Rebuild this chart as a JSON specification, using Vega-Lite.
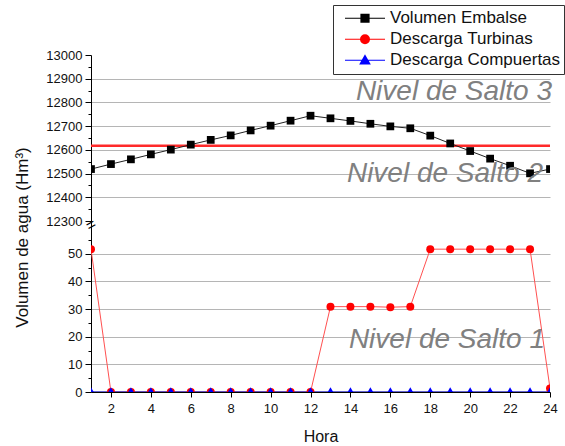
{
  "$schema": "https://vega.github.io/schema/vega-lite/v6.json",
  "width": 459,
  "height": 337,
  "autosize": {"type": "none"},
  "padding": {"left": 91, "top": 55, "right": 15, "bottom": 54},
  "background": "white",
  "config": {
    "font": "Liberation Sans",
    "view": {"stroke": null},
    "axis": {"labelFont": "Liberation Sans", "titleFont": "Liberation Sans", "titleFontWeight": "normal", "labelColor": "#111", "titleColor": "#111", "domainColor": "#000", "tickColor": "#000"}
  },
  "datasets": {
    "series": [
      {"hora": 1, "serie": "Volumen Embalse", "valor": 12519},
      {"hora": 2, "serie": "Volumen Embalse", "valor": 12540},
      {"hora": 3, "serie": "Volumen Embalse", "valor": 12560},
      {"hora": 4, "serie": "Volumen Embalse", "valor": 12581},
      {"hora": 5, "serie": "Volumen Embalse", "valor": 12601},
      {"hora": 6, "serie": "Volumen Embalse", "valor": 12622},
      {"hora": 7, "serie": "Volumen Embalse", "valor": 12642},
      {"hora": 8, "serie": "Volumen Embalse", "valor": 12661},
      {"hora": 9, "serie": "Volumen Embalse", "valor": 12682},
      {"hora": 10, "serie": "Volumen Embalse", "valor": 12702},
      {"hora": 11, "serie": "Volumen Embalse", "valor": 12723},
      {"hora": 12, "serie": "Volumen Embalse", "valor": 12744},
      {"hora": 13, "serie": "Volumen Embalse", "valor": 12733},
      {"hora": 14, "serie": "Volumen Embalse", "valor": 12722},
      {"hora": 15, "serie": "Volumen Embalse", "valor": 12710},
      {"hora": 16, "serie": "Volumen Embalse", "valor": 12699},
      {"hora": 17, "serie": "Volumen Embalse", "valor": 12691},
      {"hora": 18, "serie": "Volumen Embalse", "valor": 12660},
      {"hora": 19, "serie": "Volumen Embalse", "valor": 12627},
      {"hora": 20, "serie": "Volumen Embalse", "valor": 12595},
      {"hora": 21, "serie": "Volumen Embalse", "valor": 12563},
      {"hora": 22, "serie": "Volumen Embalse", "valor": 12533},
      {"hora": 23, "serie": "Volumen Embalse", "valor": 12501},
      {"hora": 24, "serie": "Volumen Embalse", "valor": 12519},
      {"hora": 1, "serie": "Descarga Turbinas", "valor": 51.7},
      {"hora": 2, "serie": "Descarga Turbinas", "valor": 0},
      {"hora": 3, "serie": "Descarga Turbinas", "valor": 0},
      {"hora": 4, "serie": "Descarga Turbinas", "valor": 0},
      {"hora": 5, "serie": "Descarga Turbinas", "valor": 0},
      {"hora": 6, "serie": "Descarga Turbinas", "valor": 0},
      {"hora": 7, "serie": "Descarga Turbinas", "valor": 0},
      {"hora": 8, "serie": "Descarga Turbinas", "valor": 0},
      {"hora": 9, "serie": "Descarga Turbinas", "valor": 0},
      {"hora": 10, "serie": "Descarga Turbinas", "valor": 0},
      {"hora": 11, "serie": "Descarga Turbinas", "valor": 0},
      {"hora": 12, "serie": "Descarga Turbinas", "valor": 0},
      {"hora": 13, "serie": "Descarga Turbinas", "valor": 30.9},
      {"hora": 14, "serie": "Descarga Turbinas", "valor": 30.9},
      {"hora": 15, "serie": "Descarga Turbinas", "valor": 30.9},
      {"hora": 16, "serie": "Descarga Turbinas", "valor": 30.7},
      {"hora": 17, "serie": "Descarga Turbinas", "valor": 30.9},
      {"hora": 18, "serie": "Descarga Turbinas", "valor": 51.7},
      {"hora": 19, "serie": "Descarga Turbinas", "valor": 51.7},
      {"hora": 20, "serie": "Descarga Turbinas", "valor": 51.7},
      {"hora": 21, "serie": "Descarga Turbinas", "valor": 51.7},
      {"hora": 22, "serie": "Descarga Turbinas", "valor": 51.7},
      {"hora": 23, "serie": "Descarga Turbinas", "valor": 51.7},
      {"hora": 24, "serie": "Descarga Turbinas", "valor": 1.3},
      {"hora": 1, "serie": "Descarga Compuertas", "valor": 0},
      {"hora": 2, "serie": "Descarga Compuertas", "valor": 0},
      {"hora": 3, "serie": "Descarga Compuertas", "valor": 0},
      {"hora": 4, "serie": "Descarga Compuertas", "valor": 0},
      {"hora": 5, "serie": "Descarga Compuertas", "valor": 0},
      {"hora": 6, "serie": "Descarga Compuertas", "valor": 0},
      {"hora": 7, "serie": "Descarga Compuertas", "valor": 0},
      {"hora": 8, "serie": "Descarga Compuertas", "valor": 0},
      {"hora": 9, "serie": "Descarga Compuertas", "valor": 0},
      {"hora": 10, "serie": "Descarga Compuertas", "valor": 0},
      {"hora": 11, "serie": "Descarga Compuertas", "valor": 0},
      {"hora": 12, "serie": "Descarga Compuertas", "valor": 0},
      {"hora": 13, "serie": "Descarga Compuertas", "valor": 0},
      {"hora": 14, "serie": "Descarga Compuertas", "valor": 0},
      {"hora": 15, "serie": "Descarga Compuertas", "valor": 0},
      {"hora": 16, "serie": "Descarga Compuertas", "valor": 0},
      {"hora": 17, "serie": "Descarga Compuertas", "valor": 0},
      {"hora": 18, "serie": "Descarga Compuertas", "valor": 0},
      {"hora": 19, "serie": "Descarga Compuertas", "valor": 0},
      {"hora": 20, "serie": "Descarga Compuertas", "valor": 0},
      {"hora": 21, "serie": "Descarga Compuertas", "valor": 0},
      {"hora": 22, "serie": "Descarga Compuertas", "valor": 0},
      {"hora": 23, "serie": "Descarga Compuertas", "valor": 0},
      {"hora": 24, "serie": "Descarga Compuertas", "valor": 0}
    ],
    "niveles": [
      {"hora": 24.1, "valor": 12810, "etiqueta": "Nivel de Salto 3"},
      {"hora": 23.65, "valor": 12464, "etiqueta": "Nivel de Salto 2"},
      {"hora": 23.75, "valor": 15.9, "etiqueta": "Nivel de Salto 1"}
    ],
    "umbral": [{"hora": 1, "hora_fin": 24, "valor": 12617}],
    "corte": [{"hora": 1, "valor": 6000, "simbolo": "="}]
  },
  "encoding": {
    "x": {
      "field": "hora", "type": "quantitative",
      "scale": {"domain": [1, 24], "nice": false, "zero": false},
      "axis": {
        "title": "Hora", "titleFontSize": 16, "titlePadding": 13,
        "values": [2, 4, 6, 8, 10, 12, 14, 16, 18, 20, 22, 24],
        "tickSize": 5, "labelFontSize": 13, "labelPadding": 5, "grid": false,
        "labelFlush": false
      }
    },
    "y": {
      "field": "valor", "type": "quantitative",
      "scale": {"domain": [0, 59, 12300, 13000], "range": [337, 174, 166, 0], "nice": false, "zero": false},
      "axis": {
        "title": "Volumen de agua (Hm³)", "titleFontSize": 17, "titleY": 182, "titleX": -69, "titleBaseline": "middle",
        "values": [0, 5, 10, 15, 20, 25, 30, 35, 40, 45, 50, 55, 12300, 12350, 12400, 12450, 12500, 12550, 12600, 12650, 12700, 12750, 12800, 12850, 12900, 12950, 13000],
        "format": "d",
        "labelExpr": "(datum.value < 100 && datum.value % 10 == 0) || (datum.value > 100 && datum.value % 100 == 0) ? datum.label : ''",
        "labelFontSize": 13, "labelPadding": 3, "labelFlush": false,
        "tickSize": {"condition": {"test": "(datum.value < 100 && datum.value % 10 == 0) || (datum.value > 100 && datum.value % 100 == 0)", "value": 6}, "value": 3},
        "grid": true, "gridColor": "#b5b5b5", "gridWidth": 1,
        "gridOpacity": {"condition": {"test": "(datum.value > 0 && datum.value < 100 && datum.value % 10 == 0) || (datum.value >= 12400 && datum.value <= 12900 && datum.value % 100 == 0)", "value": 1}, "value": 0}
      }
    }
  },
  "layer": [
    {
      "data": {"name": "umbral"},
      "mark": {"type": "rule", "color": "#ff2a2a", "strokeWidth": 2.5},
      "encoding": {"x2": {"field": "hora_fin"}}
    },
    {
      "data": {"name": "series"},
      "transform": [{"filter": "datum.serie == 'Volumen Embalse'"}],
      "mark": {"type": "line", "clip": true, "strokeWidth": 1, "color": "#222222"}
    },
    {
      "data": {"name": "series"},
      "transform": [{"filter": "datum.serie == 'Descarga Turbinas'"}],
      "mark": {"type": "line", "clip": true, "strokeWidth": 1, "color": "#ff5050"}
    },
    {
      "data": {"name": "series"},
      "transform": [{"filter": "datum.serie == 'Descarga Compuertas'"}],
      "mark": {"type": "line", "clip": true, "strokeWidth": 1.5, "color": "#3030c0"}
    },
    {
      "data": {"name": "series"},
      "transform": [{"filter": "datum.serie == 'Volumen Embalse'"}],
      "mark": {"type": "point", "shape": "square", "filled": true, "clip": true, "opacity": 1, "size": 60, "color": "#000000"}
    },
    {
      "data": {"name": "series"},
      "transform": [{"filter": "datum.serie == 'Descarga Turbinas'"}],
      "mark": {"type": "point", "shape": "circle", "filled": true, "clip": true, "opacity": 1, "size": 64, "color": "#ff0000"}
    },
    {
      "data": {"name": "series"},
      "transform": [{"filter": "datum.serie == 'Descarga Compuertas'"}],
      "mark": {"type": "point", "shape": "triangle-up", "filled": true, "clip": true, "opacity": 1, "size": 120, "color": "#0000ff"}
    },
    {
      "data": {"name": "series"},
      "transform": [{"filter": "false"}],
      "mark": {"type": "point", "filled": false, "opacity": 1, "strokeWidth": 1.2},
      "encoding": {
        "color": {"field": "serie", "type": "nominal",
          "scale": {"domain": ["Volumen Embalse", "Descarga Turbinas", "Descarga Compuertas"], "range": ["#000000", "#ff0000", "#0000ff"]},
          "legend": {
            "title": null, "orient": "none", "legendX": 242, "legendY": -50,
            "direction": "vertical", "columns": 1,
            "labelFont": "Liberation Sans", "labelFontSize": 17, "labelColor": "#111", "labelLimit": 400,
            "strokeColor": "#333", "fillColor": "white", "padding": 3,
            "clipHeight": 20.5, "rowPadding": 0, "symbolOffset": 8, "labelOffset": 4,
            "symbolSize": 1600, "symbolStrokeWidth": 1.2, "symbolOpacity": 1
          }
        },
        "shape": {"field": "serie", "type": "nominal",
          "scale": {"domain": ["Volumen Embalse", "Descarga Turbinas", "Descarga Compuertas"],
            "range": [
              "M-1,0H1M-0.2,-0.2H0.2V0.2H-0.2ZM-0.2,-0.15H0.2M-0.2,-0.1H0.2M-0.2,-0.05H0.2M-0.2,0.05H0.2M-0.2,0.1H0.2M-0.2,0.15H0.2",
              "M-1,0H1M-0.22,0A0.22,0.22 0 1,0 0.22,0A0.22,0.22 0 1,0 -0.22,0ZM-0.214,-0.05H0.214M-0.196,-0.1H0.196M-0.161,-0.15H0.161M-0.092,-0.2H0.092M-0.214,0.05H0.214M-0.196,0.1H0.196M-0.161,0.15H0.161M-0.092,0.2H0.092",
              "M-1,0H1M0,-0.24L0.24,0.18H-0.24ZM-0.023,-0.2H0.023M-0.051,-0.15H0.051M-0.08,-0.1H0.08M-0.109,-0.05H0.109M-0.166,0.05H0.166M-0.194,0.1H0.194M-0.223,0.15H0.223"
            ]}}
      }
    },
    {
      "data": {"name": "niveles"},
      "mark": {"type": "text", "align": "right", "baseline": "alphabetic", "fontSize": 28, "fontStyle": "italic", "color": "#808080", "font": "Liberation Sans"},
      "encoding": {"text": {"field": "etiqueta"}}
    },
    {
      "data": {"name": "corte"},
      "mark": {"type": "text", "fontSize": 16, "angle": 330, "color": "#000", "align": "center", "baseline": "middle"},
      "encoding": {"text": {"field": "simbolo"}}
    }
  ]
}
